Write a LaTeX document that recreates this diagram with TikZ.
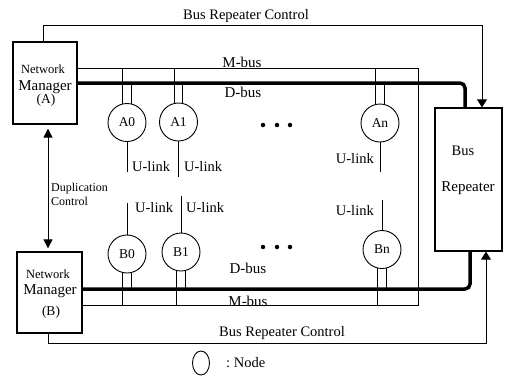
\documentclass[tikz,border=0pt]{standalone}
\usepackage{fontspec}
\setmainfont{Liberation Serif}
\usetikzlibrary{arrows.meta}
\newcommand{\fsz}[1]{\fontsize{#1}{#1}\selectfont}
\begin{document}
\begin{tikzpicture}[x=1pt,y=-1pt,
  wire/.style={line width=0.9pt},
  boxshape/.style={draw, line width=1.3pt, inner sep=0pt},
  nodecirc/.style={draw, circle, line width=0.9pt, minimum size=38pt, inner sep=0pt, font=\fsz{13.5}},
  dbus/.style={line width=3.5pt, rounded corners=5pt},
  lbl/.style={inner sep=0pt, font=\fsz{15}},
  ulabel/.style={inner sep=0pt, font=\fsz{14.5}},
  ctrl/.style={line width=0.9pt, -{Triangle[width=10pt,length=8pt]}},
  dupl/.style={line width=0.9pt, {Triangle[width=9pt,length=9pt]}-{Triangle[width=9pt,length=9pt]}, shorten <=4pt, shorten >=3pt},
  dot/.style={circle, fill, inner sep=0pt, minimum size=4.5pt},
]
\useasboundingbox (0,0) rectangle (507,381);

% boxes
\node[boxshape, minimum width=64pt, minimum height=82pt] (NMA) at (45,83) {};
\node[boxshape, minimum width=65pt, minimum height=81pt] (NMB) at (49.5,292.5) {};
\node[boxshape, minimum width=67pt, minimum height=143pt] (BR) at (468.5,179.5) {};

\node[inner sep=0pt, font=\fsz{12.5}] (NMAt1) at (43,69) {Network};
\node[inner sep=0pt, font=\fsz{15}] (NMAt2) at (45,87) {Manager};
\node[inner sep=0pt, font=\fsz{13.5}] (NMAt3) at (46,100) {(A)};
\node[inner sep=0pt, font=\fsz{12.5}] (NMBt1) at (48,274) {Network};
\node[inner sep=0pt, font=\fsz{15}] (NMBt2) at (50,291) {Manager};
\node[inner sep=0pt, font=\fsz{13.5}] (NMBt3) at (51,312) {(B)};
\node[inner sep=0pt, font=\fsz{14.5}] (BRt1) at (463,151) {Bus};
\node[inner sep=0pt, font=\fsz{15}] (BRt2) at (468,188) {Repeater};

% node circles
\node[nodecirc] (A0) at (127,122.5) {A0};
\node[nodecirc] (A1) at (178.5,122) {A1};
\node[nodecirc] (An) at (380,123) {An};
\node[nodecirc] (B0) at (127,254) {B0};
\node[nodecirc] (B1) at (181,252) {B1};
\node[nodecirc] (Bn) at (382,249.5) {Bn};

% buses
\coordinate (mTR) at (418,68);
\coordinate (mBR) at (418,305);
\draw[wire] (NMA.east |- mTR) -- (mTR) -- (mBR) -- (NMB.east |- mBR);
\coordinate (dTR) at (465,83);
\coordinate (dBR) at (470,289);
\draw[dbus] (NMA.east |- dTR) -- (dTR) -- (BR.north -| dTR);
\draw[dbus] (NMB.east |- dBR) -- (dBR) -- (BR.south -| dBR);

% stems
\foreach \n in {A0,A1,An}{
  \draw[wire] (\n.103) -- (\n.103 |- mTR);
  \draw[wire] (\n.77) -- (\n.77 |- dTR);
}
\foreach \n in {B0,B1,Bn}{
  \draw[wire] (\n.-103) -- (\n.-103 |- mBR);
  \draw[wire] (\n.-77) -- (\n.-77 |- dBR);
}

% U-links
\coordinate (uA0) at (127,172);
\coordinate (uA1) at (178.5,177);
\coordinate (uAn) at (380,172);
\coordinate (uB0) at (127,203);
\coordinate (uB1) at (181,196);
\coordinate (uBn) at (382,200);
\draw[wire] (A0) -- (uA0);
\draw[wire] (A1) -- (uA1);
\draw[wire] (An) -- (uAn);
\draw[wire] (B0) -- (uB0);
\draw[wire] (B1) -- (uB1);
\draw[wire] (Bn) -- (uBn);
\node[ulabel, anchor=west] (lA0) at (132,167) {U-link};
\node[ulabel, anchor=west] (lA1) at (184,167) {U-link};
\node[ulabel, anchor=east] (lAn) at (374,159) {U-link};
\node[ulabel, anchor=west] (lB0) at (135,208) {U-link};
\node[ulabel, anchor=west] (lB1) at (186,208) {U-link};
\node[ulabel, anchor=east] (lBn) at (374,211) {U-link};

% dots
\foreach \x in {263,277,290}{
  \node[dot] at (\x,125) {};
  \node[dot] at (\x,247) {};
}

% bus labels
\node[lbl, anchor=base] (mlT) at (242,67) {M-bus};
\node[lbl, anchor=base] (dlT) at (243,97) {D-bus};
\node[lbl, anchor=base] (dlB) at (248,273) {D-bus};
\node[lbl, anchor=base] (mlB) at (248,306) {M-bus};

% control lines
\coordinate (cT1) at (43,25);
\coordinate (cT2) at (482,25);
\draw[ctrl] (NMA.north -| cT1) -- (cT1) -- (cT2) -- (BR.north -| cT2);
\coordinate (cB1) at (48,343);
\coordinate (cB2) at (486,343);
\draw[ctrl] (NMB.south -| cB1) -- (cB1) -- (cB2) -- (BR.south -| cB2);
\node[inner sep=0pt, anchor=base, font=\fsz{14.5}] (brcT) at (246,19) {Bus Repeater Control};
\node[inner sep=0pt, anchor=base, font=\fsz{14.5}] (brcB) at (282,336) {Bus Repeater Control};

% duplication control
\draw[dupl] (NMA.south -| cB1) -- (NMB.north -| cB1);
\node[inner sep=0pt, anchor=west, align=left, font=\fontsize{12}{14}\selectfont] (dupT) at (51,194) {Duplication\\Control};

% legend
\draw[wire] (201,363) ellipse [x radius=8.5pt, y radius=12pt];
\node[inner sep=0pt, anchor=west, font=\fsz{14.5}] (legT) at (226,363) {:\ Node};
\end{tikzpicture}
\end{document}
